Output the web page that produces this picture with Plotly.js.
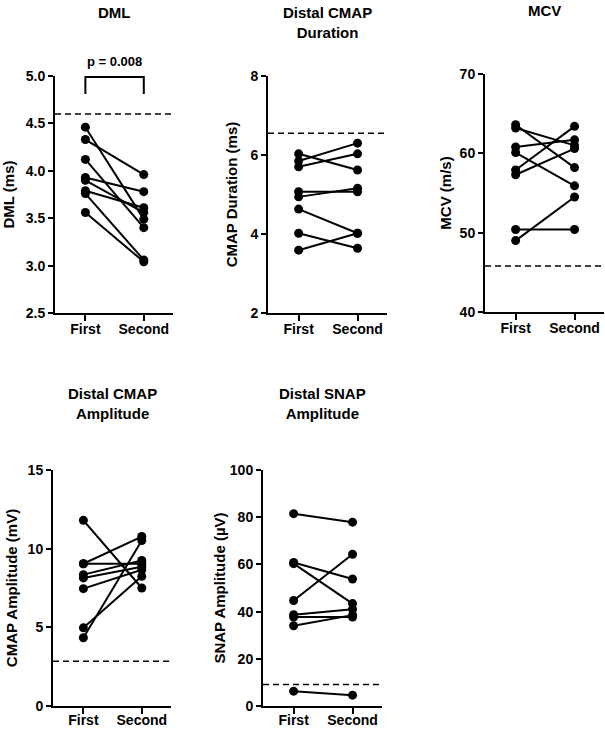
<!DOCTYPE html>
<html>
<head>
<meta charset="utf-8">
<script src="https://cdn.plot.ly/plotly-3.0.1.min.js"></script>
<style>html,body{margin:0;padding:0;background:#fff;}#chart{width:605px;height:729px;}</style>
</head>
<body>
<div id="chart"></div>
<script>
// ---- Data ----
const categories = ['First', 'Second'];

const dmlFirst  = [4.46, 4.33, 4.12, 3.93, 3.90, 3.79, 3.76, 3.56];
const dmlSecond = [3.49, 3.96, 3.40, 3.78, 3.56, 3.61, 3.06, 3.04];

const durFirst  = [6.03, 5.85, 5.70, 5.07, 4.94, 4.63, 4.02, 3.59];
const durSecond = [5.62, 6.30, 6.03, 5.07, 5.16, 4.02, 3.64, 4.02];

const mcvFirst  = [63.6, 63.2, 60.8, 60.1, 57.9, 57.3, 50.4, 49.0];
const mcvSecond = [58.2, 61.0, 61.7, 55.9, 63.4, 60.6, 50.4, 54.5];

const ampFirst  = [11.8, 9.04, 9.04, 8.35, 8.14, 7.46, 4.97, 4.34];
const ampSecond = [7.50, 10.77, 9.04, 9.25, 8.85, 8.66, 8.24, 10.52];

const snapFirst  = [81.5, 60.8, 60.3, 44.7, 38.7, 37.7, 34.0, 6.3];
const snapSecond = [77.9, 53.8, 43.4, 64.3, 41.0, 37.7, 38.5, 4.6];

const panelTitles = ['DML', 'Distal CMAP<br>Duration', 'MCV', 'Distal CMAP<br>Amplitude', 'Distal SNAP<br>Amplitude'];
const yTitles = ['DML (ms)', 'CMAP Duration (ms)', 'MCV (m/s)', 'CMAP Amplitude (mV)', 'SNAP Amplitude (µV)'];
const refValues = [4.6, 6.55, 45.8, 2.85, 9.1];
const yRanges = [[2.5, 5.0], [2, 8], [40, 70], [0, 15], [0, 100]];
const yTickVals = [
  [2.5, 3.0, 3.5, 4.0, 4.5, 5.0],
  [2, 4, 6, 8],
  [40, 50, 60, 70],
  [0, 5, 10, 15],
  [0, 20, 40, 60, 80, 100]
];
const yTickText = [
  ['2.5', '3.0', '3.5', '4.0', '4.5', '5.0'],
  ['2', '4', '6', '8'],
  ['40', '50', '60', '70'],
  ['0', '5', '10', '15'],
  ['0', '20', '40', '60', '80', '100']
];
const pLabel = 'p = 0.008';
const bracketLow = 4.81, bracketHigh = 4.99;

const series = [
  [dmlFirst, dmlSecond],
  [durFirst, durSecond],
  [mcvFirst, mcvSecond],
  [ampFirst, ampSecond],
  [snapFirst, snapSecond]
];

// ---- Layout geometry (pixels) ----
const W = 605, H = 729;
const boxes = [
  {l: 55, r: 173, t: 76, b: 313, ty: 13, so: 8, xs: -4},
  {l: 268, r: 387, t: 76, b: 313, ty: 22, so: 9, xs: -4},
  {l: 485, r: 604, t: 74, b: 312, ty: 10, so: 4, xs: -4},
  {l: 53, r: 171, t: 470, b: 706, ty: 404, so: 6, xs: -6},
  {l: 263, r: 382, t: 470, b: 706, ty: 404, so: 1, xs: -6}
];

const FONT = 'Liberation Sans, Arial, Helvetica, sans-serif';
const traces = [];
const layout = {
  width: W, height: H,
  margin: {l: 0, r: 0, t: 0, b: 0},
  paper_bgcolor: '#fff', plot_bgcolor: '#fff',
  showlegend: false,
  font: {family: FONT, color: '#000', size: 13, weight: 'bold'},
  annotations: [],
  shapes: []
};

series.forEach((s, p) => {
  const xa = 'x' + (p === 0 ? '' : p + 1);
  const ya = 'y' + (p === 0 ? '' : p + 1);
  const [first, second] = s;
  for (let i = 0; i < first.length; i++) {
    traces.push({
      type: 'scatter', mode: 'lines+markers',
      x: categories, y: [first[i], second[i]],
      xaxis: xa, yaxis: ya,
      line: {color: '#000', width: 2},
      marker: {color: '#000', size: 9},
      cliponaxis: false, hoverinfo: 'skip'
    });
  }
  const bx = boxes[p];
  const xk = 'xaxis' + (p === 0 ? '' : p + 1);
  const yk = 'yaxis' + (p === 0 ? '' : p + 1);
  layout[xk] = {
    domain: [bx.l / W, bx.r / W],
    anchor: ya,
    type: 'category',
    range: [-0.52, 1.5],
    showline: true, linecolor: '#000', linewidth: 2,
    ticks: 'outside', ticklen: 6, tickwidth: 2, tickcolor: '#000',
    ticklabelstandoff: bx.xs,
    showgrid: false, zeroline: false,
    tickfont: {family: FONT, size: 14, weight: 'bold', color: '#000'},
    fixedrange: true
  };
  layout[yk] = {
    domain: [1 - bx.b / H, 1 - bx.t / H],
    anchor: xa,
    range: yRanges[p],
    tickvals: yTickVals[p], ticktext: yTickText[p],
    showline: true, linecolor: '#000', linewidth: 2,
    ticks: 'outside', ticklen: 5, tickwidth: 2, tickcolor: '#000',
    showgrid: false, zeroline: false,
    tickfont: {family: FONT, size: 14, weight: 'bold', color: '#000'},
    title: {text: yTitles[p], font: {family: FONT, size: 15, weight: 'bold', color: '#000'}, standoff: bx.so},
    fixedrange: true
  };
  // reference dashed line
  layout.shapes.push({
    type: 'line', xref: xa + ' domain', yref: ya,
    x0: 0, x1: 1, y0: refValues[p], y1: refValues[p],
    line: {color: '#000', width: 1.5, dash: '6px,4px'}
  });
  // panel title
  layout.annotations.push({
    xref: 'paper', yref: 'paper',
    x: (bx.l + bx.r) / 2 / W, y: 1 - bx.ty / H,
    xanchor: 'center', yanchor: 'middle',
    text: panelTitles[p], showarrow: false,
    font: {family: FONT, size: 15, weight: 'bold', color: '#000'}
  });
});

// significance bracket in DML panel
traces.push({
  type: 'scatter', mode: 'lines',
  x: [categories[0], categories[0], categories[1], categories[1]],
  y: [bracketLow, bracketHigh, bracketHigh, bracketLow],
  xaxis: 'x', yaxis: 'y',
  line: {color: '#000', width: 2},
  cliponaxis: false, hoverinfo: 'skip'
});
layout.annotations.push({
  xref: 'x', yref: 'y', x: 0.5, y: bracketHigh,
  yanchor: 'bottom', yshift: 6,
  text: pLabel, showarrow: false,
  font: {family: FONT, size: 13, weight: 'bold', color: '#000'}
});

Plotly.newPlot('chart', traces, layout, {staticPlot: true, displayModeBar: false});
</script>
</body>
</html>
